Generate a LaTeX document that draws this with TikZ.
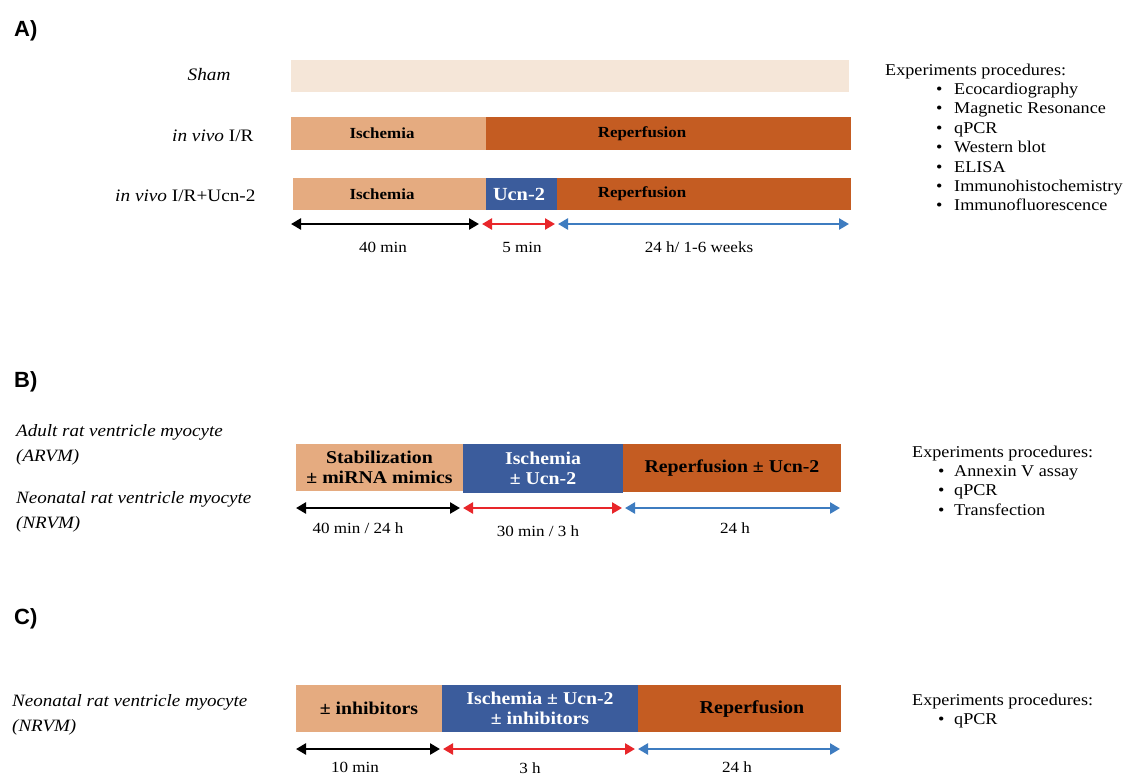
\documentclass[tikz,border=0pt]{standalone}
\usepackage{fontspec}
\setmainfont{Liberation Serif}[FakeStretch=1.1]
\newfontfamily\labfont{Liberation Sans}
\usetikzlibrary{arrows.meta}
\definecolor{shamc}{HTML}{F5E6D8}
\definecolor{ischc}{HTML}{E5AB80}
\definecolor{repc}{HTML}{C45C22}
\definecolor{ucnc}{HTML}{3B5C9C}
\definecolor{arred}{HTML}{E8262A}
\definecolor{arblue}{HTML}{3E7CC0}
\tikzset{
  bar/.style={inner sep=0pt, outer sep=0pt, anchor=north west, draw=none, align=center},
  bartxtA/.style={font=\fontsize{15.4}{17}\selectfont\bfseries, inner sep=0pt},
  barB/.style={bar, font=\fontsize{18}{20.5}\selectfont\bfseries},
  dur/.style={line width=2.6pt, {Triangle[length=10pt,width=11pt]}-{Triangle[length=10pt,width=11pt]}},
  tlab/.style={font=\fontsize{15.5}{17}\selectfont, anchor=base, inner sep=0pt},
  rowlab/.style={font=\fontsize{17.5}{20}\selectfont, anchor=base east},
  seclab/.style={font=\labfont\bfseries\fontsize{22}{24}\selectfont, anchor=base west, inner sep=0pt},
  expline/.style={font=\fontsize{16.5}{19}\selectfont, anchor=base west, inner sep=0pt},
  celllab/.style={font=\itshape\fontsize{17.3}{20}\selectfont, anchor=base west, inner sep=0pt}
}
\begin{document}
\begin{tikzpicture}[x=1pt,y=-1pt]
\useasboundingbox[fill=white] (0,0) rectangle (1127,776);

% ---------------- A ----------------
\node[seclab] (lA) at (14,37) {A)};
\node[rowlab] (lsham) at (234,81) {\textit{Sham}};
\node[rowlab] (livr) at (257,141) {\textit{in vivo} I/R};
\node[rowlab] (livru) at (259,201) {\textit{in vivo} I/R+Ucn-2};

\node[bar, fill=shamc, minimum width=558pt, minimum height=32pt] (sham) at (291,60) {};
\node[bar, fill=ischc, minimum width=195pt, minimum height=33pt] (isA1) at (291,117) {};
\node[bar, fill=repc, minimum width=365pt, minimum height=33pt] (reA1) at (486,117) {};
\node[bar, fill=ischc, minimum width=193pt, minimum height=32pt] (isA2) at (293,178) {};
\node[bar, fill=ucnc, minimum width=71pt, minimum height=32pt] (ucA2) at (486,178) {};
\node[bar, fill=repc, minimum width=294pt, minimum height=32pt] (reA2) at (557,178) {};
\node[bartxtA] (tisA1) at (382,133.5) {Ischemia};
\node[bartxtA] (treA1) at (642,133.5) {Reperfusion};
\node[bartxtA] (tisA2) at (382,194) {Ischemia};
\node[bartxtA, text=white, font=\fontsize{18.5}{20}\selectfont\bfseries] (tucA2) at (519,194) {Ucn-2};
\node[bartxtA] (treA2) at (642,194) {Reperfusion};

\coordinate (a1) at (291,224);
\coordinate (a2) at (479,224);
\coordinate (a3) at (482,224);
\coordinate (a4) at (555,224);
\coordinate (a5) at (558,224);
\coordinate (a6) at (849,224);
\draw[dur, black] (a1) -- (a2);
\draw[dur, arred] (a3) -- (a4);
\draw[dur, arblue] (a5) -- (a6);
\node[tlab] (tA1) at (383,252) {40 min};
\node[tlab] (tA2) at (522,252) {5 min};
\node[tlab] (tA3) at (699,252) {24 h/ 1-6 weeks};

\node[expline] (eA) at (885,75) {Experiments procedures:};
\foreach \t [count=\i] in {Ecocardiography,Magnetic Resonance,qPCR,Western blot,ELISA,Immunohistochemistry,Immunofluorescence}{
  \node[expline] (eAb\i) at (936,{75+19.4*\i}) {\textbullet};
  \node[expline] (eAt\i) at (954,{75+19.4*\i}) {\t};
}

% ---------------- B ----------------
\node[seclab] (lB) at (14,387) {B)};
\node[celllab] (arvm1) at (16,436) {Adult rat ventricle myocyte};
\node[celllab] (arvm2) at (16,461) {(ARVM)};
\node[celllab] (nrvm1) at (16,503) {Neonatal rat ventricle myocyte};
\node[celllab] (nrvm2) at (16,528) {(NRVM)};

\node[barB, fill=ischc, minimum width=167pt, minimum height=47pt] (stB) at (296,444) {Stabilization\\± miRNA mimics};
\node[barB, fill=ucnc, text=white, minimum width=160pt, minimum height=49pt] (isB) at (463,444) {Ischemia\\± Ucn-2};
\node[barB, fill=repc, minimum width=218pt, minimum height=48pt] (reB) at (623,444) {Reperfusion ± Ucn-2};

\coordinate (b1) at (296,508);
\coordinate (b2) at (460,508);
\coordinate (b3) at (463,508);
\coordinate (b4) at (622,508);
\coordinate (b5) at (625,508);
\coordinate (b6) at (840,508);
\draw[dur, black] (b1) -- (b2);
\draw[dur, arred] (b3) -- (b4);
\draw[dur, arblue] (b5) -- (b6);
\node[tlab] (tB1) at (358,533) {40 min / 24 h};
\node[tlab] (tB2) at (538,536) {30 min / 3 h};
\node[tlab] (tB3) at (735,533) {24 h};

\node[expline] (eB) at (912,457) {Experiments procedures:};
\foreach \t [count=\i] in {Annexin V assay,qPCR,Transfection}{
  \node[expline] (eBb\i) at (938,{457+19.4*\i}) {\textbullet};
  \node[expline] (eBt\i) at (954,{457+19.4*\i}) {\t};
}

% ---------------- C ----------------
\node[seclab] (lC) at (14,624) {C)};
\node[celllab] (nrvmC1) at (12,706) {Neonatal rat ventricle myocyte};
\node[celllab] (nrvmC2) at (12,731) {(NRVM)};

\node[barB, fill=ischc, minimum width=146pt, minimum height=47pt] (inC) at (296,685) {± inhibitors};
\node[barB, fill=ucnc, text=white, minimum width=196pt, minimum height=47pt] (isC) at (442,685) {Ischemia ± Ucn-2\\± inhibitors};
\node[barB, fill=repc, minimum width=203pt, minimum height=47pt] (reC) at (638,685) {};
\node[bartxtA, font=\fontsize{18.2}{20}\selectfont\bfseries] (treC) at (752,709) {Reperfusion};

\coordinate (c1) at (296,749);
\coordinate (c2) at (440,749);
\coordinate (c3) at (443,749);
\coordinate (c4) at (635,749);
\coordinate (c5) at (638,749);
\coordinate (c6) at (840,749);
\draw[dur, black] (c1) -- (c2);
\draw[dur, arred] (c3) -- (c4);
\draw[dur, arblue] (c5) -- (c6);
\node[tlab] (tC1) at (355,772) {10 min};
\node[tlab] (tC2) at (530,773.5) {3 h};
\node[tlab] (tC3) at (737,772) {24 h};

\node[expline] (eC) at (912,705) {Experiments procedures:};
\node[expline] (eCb1) at (938,724.4) {\textbullet};
\node[expline] (eCt1) at (954,724.4) {qPCR};
\end{tikzpicture}
\end{document}
